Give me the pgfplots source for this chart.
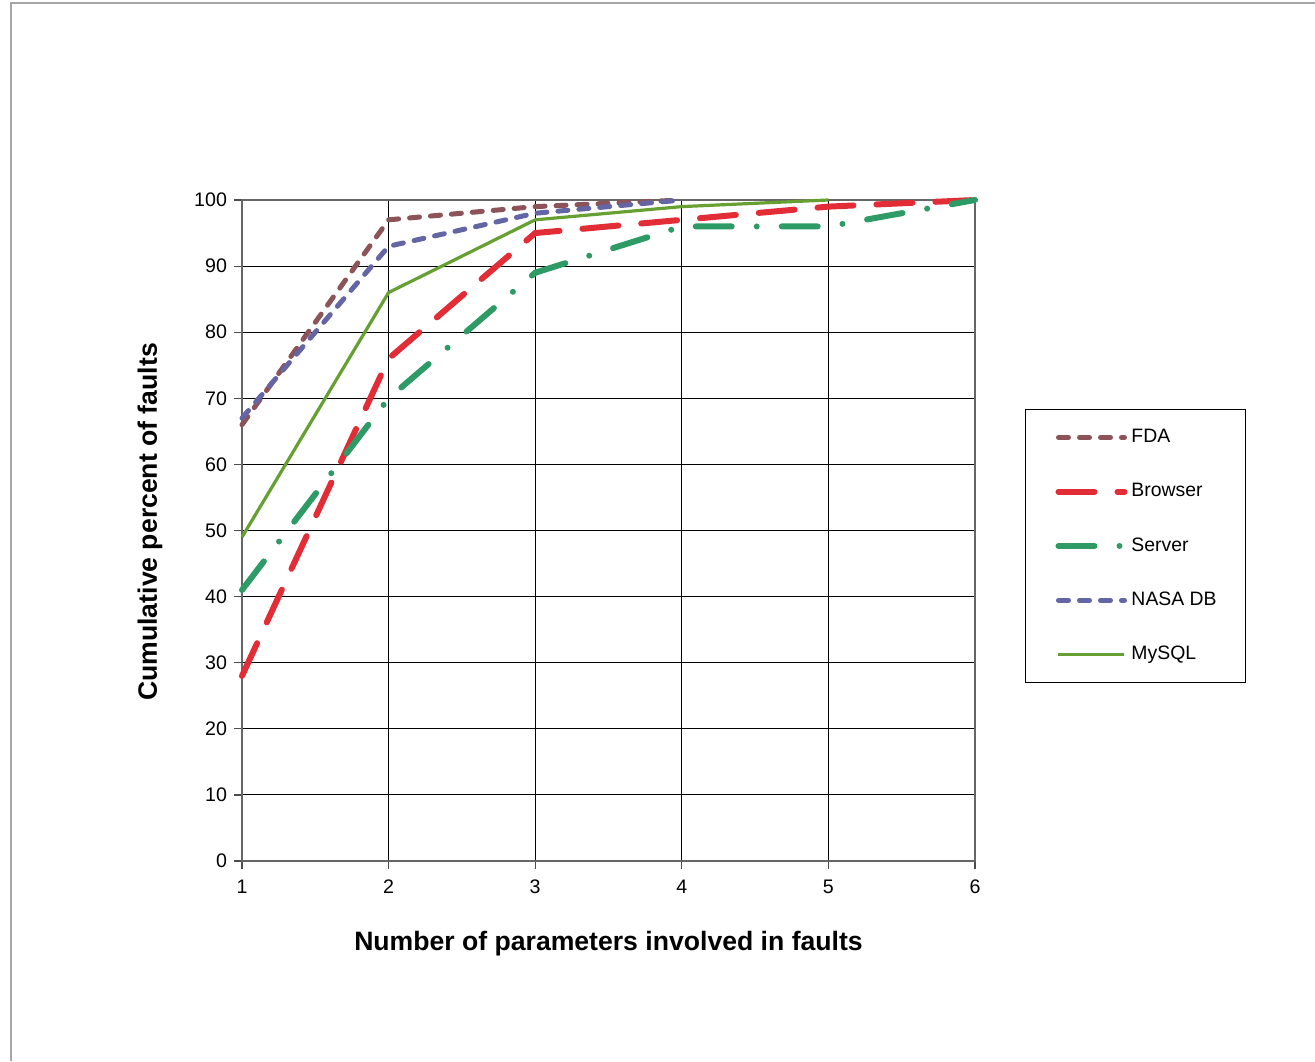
\documentclass[border=0pt]{standalone}
\usepackage{pgfplots}
\pgfplotsset{compat=1.18}
\usepackage{fontspec}
\setmainfont{Liberation Sans}
\definecolor{cfda}{RGB}{140,84,88}
\definecolor{cbrowser}{RGB}{227,45,54}
\definecolor{cserver}{RGB}{46,155,102}
\definecolor{cnasa}{RGB}{100,101,165}
\definecolor{cmysql}{RGB}{102,160,51}
\begin{document}
\begin{tikzpicture}
\path[use as bounding box] (-121pt,-100pt) rectangle (536.5pt,430.5pt);
\draw[gray!70,line width=0.6pt] (-115.5pt,-100pt) -- (-115.5pt,429pt) -- (536.5pt,429pt);
\begin{axis}[
  at={(0,0)}, anchor=origin,
  scale only axis, width=366.5pt, height=330.5pt,
  xmin=1, xmax=6, ymin=0, ymax=100,
  xtick={1,...,6}, ytick={0,10,...,100},
  xtick pos=bottom, ytick pos=left,
  axis line style={black!60, line width=0.8pt},
  grid=major, major grid style={black, line width=0.5pt},
  tick align=outside, major tick length=4pt,
  tick style={black!70, line width=0.6pt},
  x tick label style={yshift=-2pt},
  tick label style={font=\fontsize{9.8}{12}\selectfont},
  /pgf/number format/assume math mode=true,
  every axis x label/.style={at={(axis description cs:0.5,0)}, yshift=-41.5pt, anchor=center},
  every axis y label/.style={at={(axis description cs:0,0.513)}, xshift=-46pt, anchor=center, rotate=90},
  xlabel={\bfseries\fontsize{13.3}{16}\selectfont Number of parameters involved in faults},
  ylabel={\bfseries\fontsize{13.3}{16}\selectfont Cumulative percent of faults},
  legend style={at={(axis description cs:1.0682,0.684)}, anchor=north west,
    draw=black, line width=0.5pt, inner xsep=15pt, inner ysep=8pt,
    font=\fontsize{9.7}{11.5}\selectfont, row sep=14.9pt, fill=white},
  legend cell align=left,
  legend image code/.code={\draw[#1] (0pt,0pt) -- (33pt,0pt);},
  clip=false,
]
\addplot[cfda, line width=2.5pt, line cap=round, dash pattern=on 5pt off 5.5pt] coordinates {(1,66) (2,97) (3,99) (4,100)};
\addlegendentry{\makebox[40pt][l]{FDA}}
\addplot[cbrowser, line width=3pt, line cap=round, dash pattern=on 18pt off 11.5pt] coordinates {(1,28) (2,76) (3,95) (4,97) (5,99) (6,100)};
\addlegendentry{\makebox[40pt][l]{Browser}}
\addplot[cserver, line width=3pt, line cap=round, dash pattern=on 18pt off 12.5pt on 0pt off 12.5pt] coordinates {(1,41) (2,70) (3,89) (4,96) (5,96) (6,100)};
\addlegendentry{\makebox[40pt][l]{Server}}
\addplot[cnasa, line width=2.5pt, line cap=round, dash pattern=on 5pt off 5.5pt] coordinates {(1,67) (2,93) (3,98) (4,100)};
\addlegendentry{\makebox[40pt][l]{NASA DB}}
\addplot[cmysql, line width=1.6pt] coordinates {(1,49) (2,86) (3,97) (4,99) (5,100)};
\addlegendentry{\makebox[40pt][l]{MySQL}}
\end{axis}
\end{tikzpicture}
\end{document}
